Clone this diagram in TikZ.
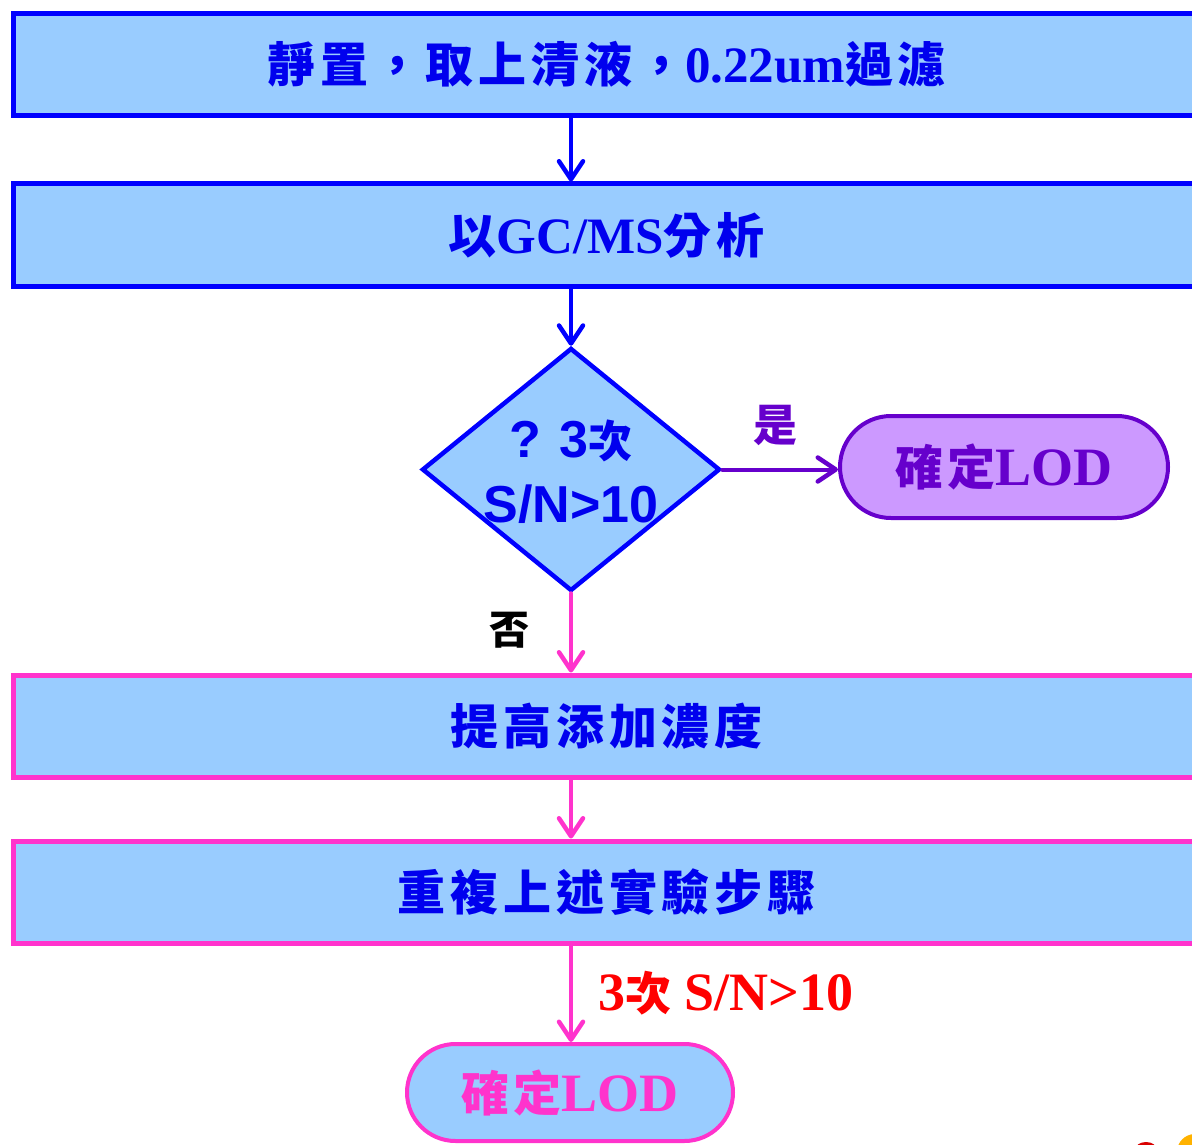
\documentclass[tikz,border=0pt]{standalone}
\usepackage{fontspec}
\setmainfont{Liberation Serif}
\newfontfamily\cjk{Noto Sans CJK TC}[LetterSpace=10]
\newfontfamily\cjknarrow{Noto Sans CJK TC}
\newfontfamily\arialf{Liberation Sans}
\usetikzlibrary{shapes.geometric,shapes.misc,arrows.meta}
\definecolor{boxfill}{HTML}{99CCFF}
\definecolor{lineblue}{HTML}{0000FF}
\definecolor{txtblue}{HTML}{0000EE}
\definecolor{linepink}{HTML}{FF33CC}
\definecolor{linepurple}{HTML}{6600CC}
\definecolor{pillpurple}{HTML}{CC99FF}
\definecolor{labelred}{HTML}{FF0000}
\newcommand{\cj}[1]{{\cjk\fontsize{48}{56}\selectfont #1}}
\tikzset{
  bigfont/.style={font=\bfseries\fontsize{51}{56}\selectfont},
  flowbox/.style={draw, line width=5pt, fill=boxfill, minimum width=1187pt,
    minimum height=102pt, inner sep=0pt, bigfont, text=txtblue},
  bluebox/.style={flowbox, draw=lineblue},
  pinkbox/.style={flowbox, draw=linepink},
  pillbox/.style={rounded rectangle, line width=4pt, inner sep=0pt,
    font=\bfseries\fontsize{54}{56}\selectfont},
  arr/.style={line width=4pt, line cap=round,
    -{Straight Barb[length=18pt,width=24pt,line width=4.5pt,round]}},
}
\begin{document}
\begin{tikzpicture}[x=1pt,y=-1pt]
\useasboundingbox (0,0) rectangle (1192,1145);
\clip (0,0) rectangle (1192,1145);

\node[bluebox] (b1) at (606.75,64.5) {\cj{靜置，取上清液，}0.22um\cj{過濾}};
\node[bluebox] (b2) at (606.75,235) {\cj{以}GC/MS\cj{分析}};

\node[diamond, draw=lineblue, line width=4.5pt, fill=boxfill, inner sep=0pt,
      minimum width=298pt, minimum height=243pt] (d) at (571,469.5) {};
\node[font=\arialf\bfseries\fontsize{52}{65}\selectfont, text=txtblue, align=center]
      (dt) at (571,472) {?\,\,3{\cjknarrow\fontsize{44}{65}\selectfont 次}\\S/N>10};

\node[pillbox, draw=linepurple, fill=pillpurple, text=linepurple,
      minimum width=328pt, minimum height=102pt] (p1) at (1004,467) {\cj{確定}LOD};

\node[pinkbox] (b3) at (606.75,726) {\cj{提高添加濃度}};
\node[pinkbox] (b4) at (606.75,892) {\cj{重複上述實驗步驟}};

\node[pillbox, draw=linepink, fill=boxfill, text=linepink,
      minimum width=326pt, minimum height=97pt] (p2) at (570,1092.5) {\cj{確定}LOD};

\node[text=linepurple, font=\cjknarrow\bfseries\fontsize{44}{44}\selectfont] (yes) at (775,425) {是};
\node[text=black, font=\cjknarrow\bfseries\fontsize{40}{40}\selectfont] (no) at (509,630) {否};
\node[anchor=west, text=labelred, font=\bfseries\fontsize{54}{56}\selectfont, inner sep=0pt]
      (cond) at (598,993) {3{\cjknarrow\fontsize{46}{56}\selectfont 次} S/N>10};

\draw[arr, draw=lineblue] (b1.south -| d.north) -- (b2.north -| d.north);
\draw[arr, draw=lineblue] (b2.south -| d.north) -- (d.north);
\draw[arr, draw=linepurple] (d.east) -- (d.east -| p1.west);
\draw[arr, draw=linepink] (d.south) -- (b3.north -| d.south);
\draw[arr, draw=linepink] (b3.south -| d.south) -- (b4.north -| d.south);
\draw[arr, draw=linepink] (b4.south -| d.south) -- (p2.north -| d.south);

\fill[red!85!black] (1146,1150) ellipse (11pt and 8pt);
\fill[orange!60!yellow] (1195,1152) circle (18pt);
\end{tikzpicture}
\end{document}
